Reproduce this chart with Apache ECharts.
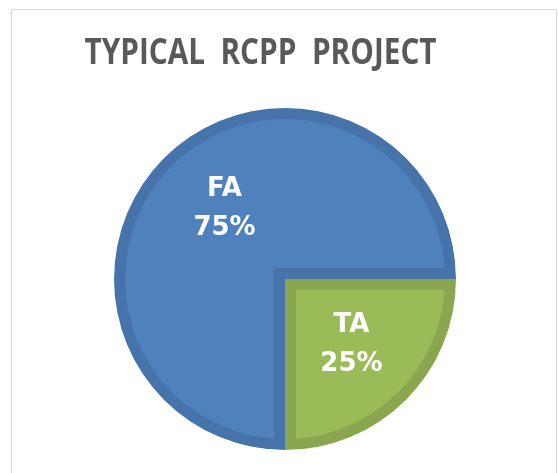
<!DOCTYPE html>
<html>
<head>
<meta charset="utf-8">
<script src="https://cdn.jsdelivr.net/npm/echarts@6/dist/echarts.min.js"></script>
<style>
  html, body { margin: 0; padding: 0; background: #ffffff; }
  #chart { width: 558px; height: 473px; }
</style>
</head>
<body>
<div id="chart"></div>
<script>
// ---- data ----
const titleText = 'TYPICAL  RCPP  PROJECT';
const categories = ['FA', 'TA'];
const values = [75, 25];

// ---- style ----
const lightColors = ['#4F81BD', '#9BBB59'];
const darkColors = ['#4674AA', '#8AA74F'];
const labelOffsets = [[6, -4], [0, -1]];
const CX = 285, CY = 279, R = 171, BAND = 11;

function makeData(colorFn, extraFn) {
  return categories.map((c, i) => Object.assign({
    name: c,
    value: values[i],
    itemStyle: { color: colorFn(i) }
  }, extraFn ? extraFn(i) : {}));
}

const common = {
  type: 'pie',
  startAngle: 270,
  clockwise: true,
  silent: true,
  animation: false,
  label: { show: false },
  labelLine: { show: false },
  emphasis: { disabled: true }
};

const chart = echarts.init(document.getElementById('chart'), null, { renderer: 'canvas' });
chart.setOption({
  backgroundColor: '#ffffff',
  graphic: [{
    type: 'rect',
    shape: { x: 11.5, y: 9.5, width: 545, height: 480 },
    style: { fill: 'none', stroke: '#D9D9D9', lineWidth: 1 },
    silent: true,
    z: 0
  }, {
    type: 'text',
    x: 260.5,
    y: 54,
    scaleX: 0.85,
    silent: true,
    z: 10,
    style: {
      x: 0, y: 0,
      text: titleText,
      align: 'center',
      verticalAlign: 'middle',
      font: "bold 35px 'Open Sans', 'DejaVu Sans', sans-serif",
      fill: '#595959'
    }
  }],
  series: [
    Object.assign({}, common, {
      name: 'base', z: 1,
      center: [CX, CY], radius: [0, R],
      data: makeData(i => darkColors[i])
    }),
    Object.assign({}, common, {
      name: 'fa-inset', z: 2,
      center: [CX - BAND, CY - BAND], radius: [0, R + 6],
      data: makeData(i => i === 0 ? lightColors[0] : 'rgba(0,0,0,0)')
    }),
    Object.assign({}, common, {
      name: 'ta-inset', z: 3,
      center: [CX + BAND, CY + BAND], radius: [0, R + 6],
      data: makeData(i => i === 1 ? lightColors[1] : 'rgba(0,0,0,0)')
    }),
    Object.assign({}, common, {
      name: 'ring', z: 4,
      center: [CX, CY], radius: [R - BAND, R],
      data: makeData(i => darkColors[i])
    }),
    Object.assign({}, common, {
      name: 'outer', z: 5,
      center: [CX, CY], radius: [R, R + 26],
      data: makeData(() => '#ffffff')
    }),
    Object.assign({}, common, {
      name: 'labels', z: 6,
      center: [CX, CY], radius: [0, 182],
      data: makeData(() => 'rgba(0,0,0,0)', i => ({ label: { offset: labelOffsets[i] } })),
      label: {
        show: true,
        position: 'inside',
        formatter: '{b}\n{d}%',
        color: '#ffffff',
        fontFamily: "'DejaVu Sans', sans-serif",
        fontWeight: 'bold',
        fontSize: 26,
        lineHeight: 39
      }
    })
  ]
});
</script>
</body>
</html>
